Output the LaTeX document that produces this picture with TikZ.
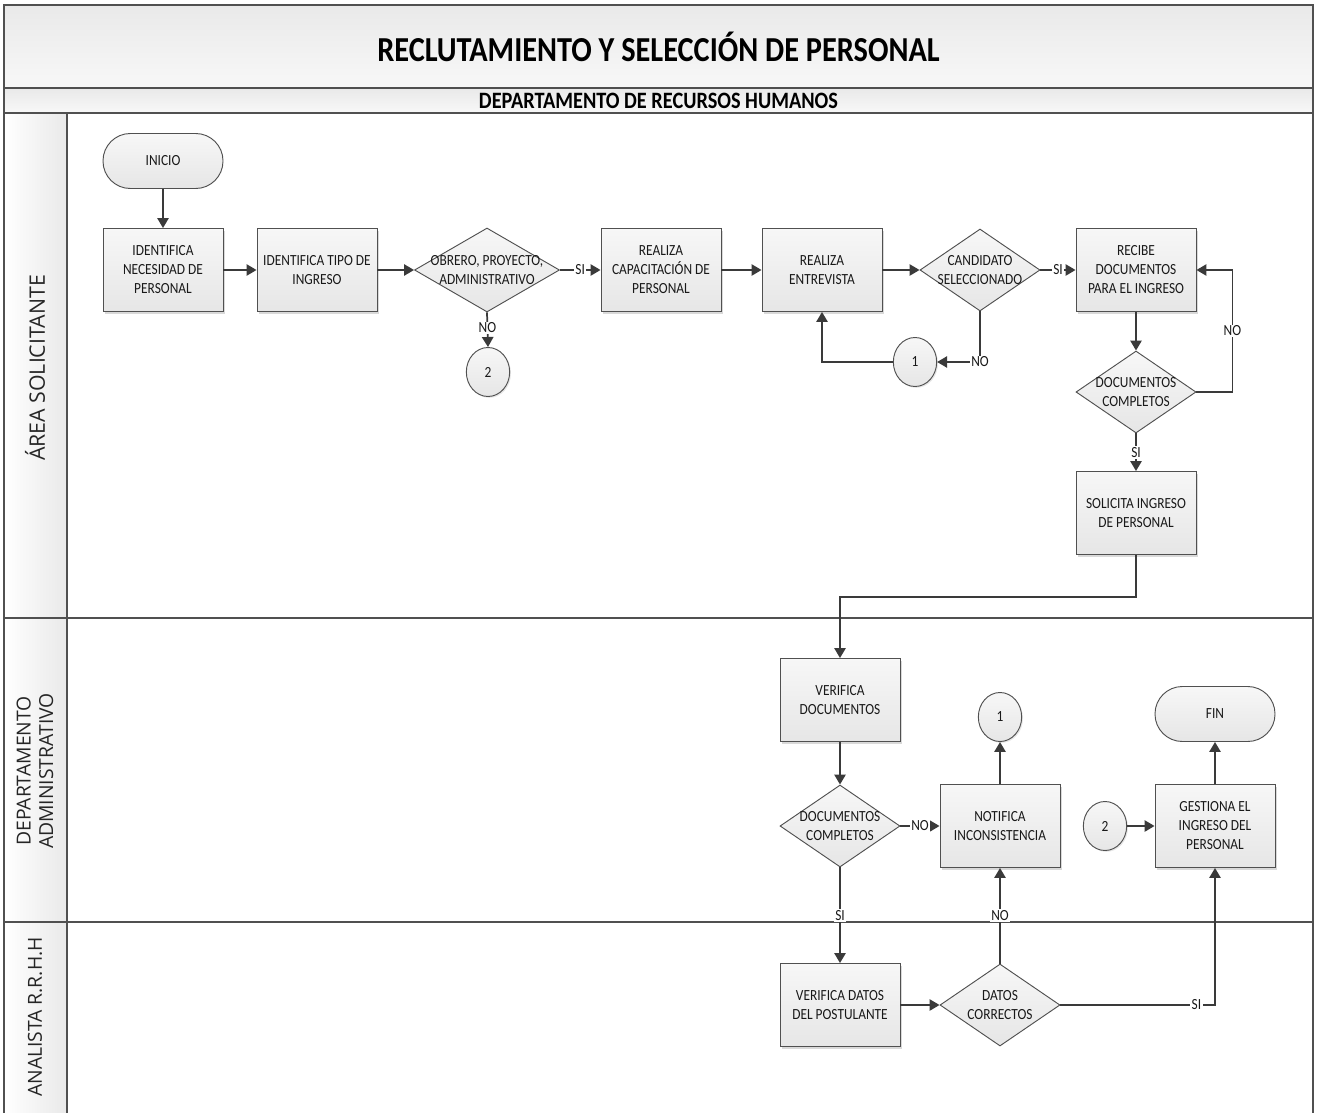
\documentclass[tikz,border=0pt]{standalone}
\usepackage{fontspec}
\setmainfont{Carlito}[FakeStretch=0.865]
\newfontfamily\lanefont{Open Sans}
\usetikzlibrary{shapes.geometric,arrows.meta,shadows}
\definecolor{frameline}{HTML}{505050}
\definecolor{flowline}{HTML}{3A3A3A}
\definecolor{shapeline}{HTML}{505050}
\definecolor{shapetop}{HTML}{F7F7F7}
\definecolor{shapebot}{HTML}{E6E6E6}
\definecolor{bandtop}{HTML}{E9E9E9}
\definecolor{bandbot}{HTML}{F8F8F8}
\begin{document}
\begin{tikzpicture}[x=0.75pt,y=-0.75pt,
  txt/.style={font=\fontsize{11.6}{14.25}\selectfont, align=center, text=black!90},
  lanebox/.style={draw=frameline, line width=1.3pt},
  band/.style={lanebox, top color=bandtop, bottom color=bandbot},
  header/.style={lanebox, left color=white, right color=bandtop},
  lanetext/.style={font=\lanefont\fontsize{14.5}{17}\selectfont, align=center, rotate=90, text=black!85},
  process/.style={txt, rectangle, draw=shapeline, line width=0.7pt, top color=shapetop, bottom color=shapebot,
    minimum width=90pt, minimum height=62.25pt, inner sep=2pt,
    drop shadow={opacity=0.3, shadow xshift=1.5pt, shadow yshift=-1.5pt}},
  terminal/.style={txt, rectangle, rounded corners=20.5pt, draw=shapeline, line width=0.7pt,
    top color=shapetop, bottom color=shapebot, minimum width=90pt, minimum height=41.25pt},
  decision/.style={diamond, draw=shapeline, line width=0.7pt, top color=shapetop, bottom color=shapebot,
    minimum width=90pt, minimum height=61.5pt, inner sep=0pt},
  connector/.style={txt, ellipse, draw=shapeline, line width=0.7pt, top color=shapetop, bottom color=shapebot,
    minimum width=32.5pt, minimum height=36.75pt, inner sep=0pt,
    drop shadow={opacity=0.2, shadow xshift=1pt, shadow yshift=-1pt}},
  flow/.style={draw=flowline, line width=1.3pt, -{Triangle[length=7.5pt,width=8.5pt]}},
  lbl/.style={txt, fill=white, inner sep=1pt},
]
\useasboundingbox (0,0) rectangle (1317,1113);

% title bands
\path[band] (4,5) rectangle (1313,88);
\node[font=\bfseries\fontsize{26.3}{30}\selectfont] (title) at (658.5,47) {RECLUTAMIENTO Y SELECCIÓN DE PERSONAL};
\path[band] (4,88) rectangle (1313,113);
\node[font=\bfseries\fontsize{17.6}{20}\selectfont] (dept) at (658.5,100.5) {DEPARTAMENTO DE RECURSOS HUMANOS};

% swimlanes
\path[header] (4,113) rectangle (67,618);
\path[header] (4,618) rectangle (67,922);
\path[header] (4,922) rectangle (67,1120);
\draw[lanebox] (67,113) rectangle (1313,618);
\draw[lanebox] (67,618) rectangle (1313,922);
\draw[lanebox] (67,922) rectangle (1313,1120);
\node[lanetext, font=\lanefont\fontsize{16}{19}\selectfont] (laneA) at (35,368) {ÁREA SOLICITANTE};
\node[lanetext] (laneB) at (35,771) {DEPARTAMENTO\\ADMINISTRATIVO};
\node[lanetext] (laneC) at (35,1017) {ANALISTA R.R.H.H};

% area solicitante
\node[terminal] (inicio) at (163,161) {INICIO};
\node[process] (necesidad) at (163,270) {IDENTIFICA\\NECESIDAD DE\\PERSONAL};
\node[process] (tipo) at (317,270) {IDENTIFICA TIPO DE\\INGRESO};
\node[decision, minimum width=108.75pt, minimum height=63pt,
  label={[txt]center:OBRERO, PROYECTO,\\ADMINISTRATIVO}] (obrero) at (487,270) {};
\node[connector] (dosA) at (488,372) {2};
\node[process] (capacita) at (661,270) {REALIZA\\CAPACITACIÓN DE\\PERSONAL};
\node[process] (entrevista) at (822,270) {REALIZA\\ENTREVISTA};
\node[decision, label={[txt]center:CANDIDATO\\SELECCIONADO}] (candidato) at (980,270) {};
\node[connector] (unoA) at (915,362) {1};
\node[process] (recibe) at (1136,270) {RECIBE\\DOCUMENTOS\\PARA EL INGRESO};
\node[decision, label={[txt]center:DOCUMENTOS\\COMPLETOS}] (docsA) at (1136,392) {};
\node[process] (solicita) at (1136,513) {SOLICITA INGRESO\\DE PERSONAL};

% departamento administrativo
\node[process] (verifdoc) at (840,700) {VERIFICA\\DOCUMENTOS};
\node[decision, label={[txt]center:DOCUMENTOS\\COMPLETOS}] (docsB) at (840,826) {};
\node[process] (notifica) at (1000,826) {NOTIFICA\\INCONSISTENCIA};
\node[connector] (unoB) at (1000,717) {1};
\node[terminal] (fin) at (1215,714) {FIN};
\node[process] (gestiona) at (1215,826) {GESTIONA EL\\INGRESO DEL\\PERSONAL};
\node[connector] (dosB) at (1105,826) {2};

% analista
\node[process] (verifdat) at (840,1005) {VERIFICA DATOS\\DEL POSTULANTE};
\node[decision, label={[txt]center:DATOS\\CORRECTOS}] (datos) at (1000,1005) {};

% connectors
\draw[flow] (inicio.south) -- (necesidad.north);
\draw[flow] (necesidad.east) -- (tipo.west);
\draw[flow] (tipo.east) -- (obrero.west);
\draw[flow] (obrero.east) -- node[lbl] (siA) {SI} (capacita.west);
\draw[flow] (obrero.south) -- node[lbl, pos=0.45] (noA) {NO} (dosA.north);
\draw[flow] (capacita.east) -- (entrevista.west);
\draw[flow] (entrevista.east) -- (candidato.west);
\draw[flow] (candidato.east) -- node[lbl] (siB) {SI} (recibe.west);
\draw[flow] (candidato.south) |- node[lbl] (noB) {NO} (unoA.east);
\draw[flow] (unoA.west) -| (entrevista.south);
\draw[flow] (recibe.south) -- (docsA.north);
\draw[flow] (docsA.east) -- ++(36,0) |- node[lbl, pos=0.25] (noC) {NO} (recibe.east);
\draw[flow] (docsA.south) -- node[lbl] (siC) {SI} (solicita.north);
\draw[flow] (solicita.south) -- ++(0,42) -| (verifdoc.north);
\draw[flow] (verifdoc.south) -- (docsB.north);
\draw[flow] (docsB.east) -- node[lbl] (noD) {NO} (notifica.west);
\draw[flow] (notifica.north) -- (unoB.south);
\draw[flow] (dosB.east) -- (gestiona.west);
\draw[flow] (gestiona.north) -- (fin.south);
\draw[flow] (docsB.south) -- node[lbl] (siD) {SI} (verifdat.north);
\draw[flow] (verifdat.east) -- (datos.west);
\draw[flow] (datos.north) -- node[lbl] (noE) {NO} (notifica.south);
\draw[flow] (datos.east) -| node[lbl, pos=0.44] (siE) {SI} (gestiona.south);
\end{tikzpicture}
\end{document}
